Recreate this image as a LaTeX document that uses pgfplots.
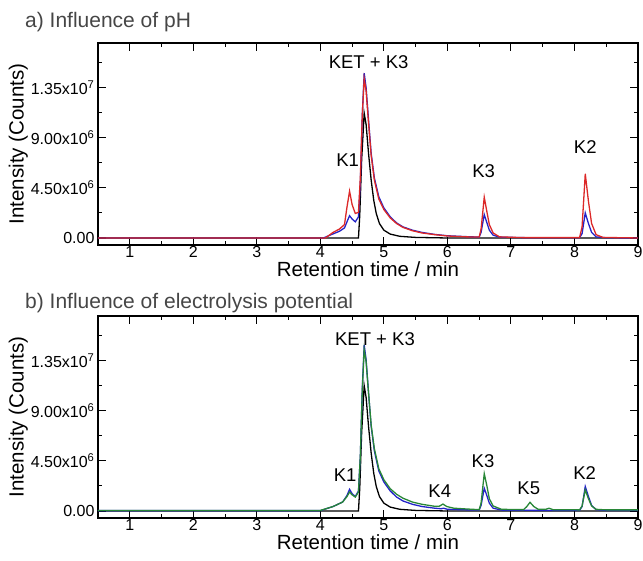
\documentclass[border=0pt]{standalone}
\usepackage{pgfplots}
\pgfplotsset{compat=1.18}
\usepackage{fontspec}
\setmainfont{Liberation Sans}

\definecolor{cred}{RGB}{220,40,40}
\definecolor{cblue}{RGB}{35,35,200}
\definecolor{cgreen}{RGB}{40,135,55}
\definecolor{titlegray}{RGB}{70,70,70}

\pgfplotsset{
  chrom/.style={
    scale only axis,
    width=540pt, height=202pt,
    xmin=0.5, xmax=9,
    ymin=-0.63e6, ymax=17.5e6,
    xtick={1,2,...,9},
    minor x tick num=1,
    ytick={0,4.5e6,9e6,1.35e7},
    yticklabels={0.00, 4.50x10\textsuperscript{6}, 9.00x10\textsuperscript{6}, 1.35x10\textsuperscript{7}},
    minor ytick={2.25e6,6.75e6,11.25e6,15.75e6},
    scaled y ticks=false,
    tick align=inside,
    major tick length=8pt, minor tick length=4pt,
    tick style={line width=1.1pt, black},
    axis line style={line width=1.3pt},
    tick label style={font=\fontsize{16}{18}\selectfont},
    x tick label style={inner sep=1pt},
    /pgf/number format/assume math mode=true,
    label style={font=\fontsize{20.5}{23}\selectfont},
    xlabel={Retention time / min},
    ylabel={Intensity (Counts)},
    xlabel style={inner sep=1pt, yshift=-2pt},
    ylabel style={yshift=-4pt},
    every axis plot/.append style={line width=1.3pt},
    clip=true,
  }
}

\begin{document}
\begin{tikzpicture}
\useasboundingbox (-98pt,-315pt) rectangle (545pt,245pt);

% ---- a) pH
\begin{axis}[chrom, at={(0pt,0pt)}]
\addplot[black] coordinates {
 (0.5,0) (4.6,0) (4.62,2.0e6) (4.65,7.0e6) (4.69,11.2e6) (4.72,10.2e6) (4.76,7.5e6)
 (4.80,5.2e6) (4.84,3.4e6) (4.88,2.2e6) (4.93,1.3e6) (5.0,0.7e6) (5.1,0.35e6)
 (5.25,0.15e6) (5.5,0.05e6) (6.0,0) (9,0)
};
\addplot[cblue] coordinates {
 (0.5,0) (4.05,0) (4.15,0.25e6) (4.3,0.6e6) (4.38,0.9e6) (4.43,1.6e6) (4.46,2.0e6)
 (4.5,1.7e6) (4.55,1.45e6) (4.6,1.9e6) (4.63,5e6) (4.66,11e6) (4.69,14.8e6)
 (4.72,13.5e6) (4.76,10.5e6) (4.80,7.6e6) (4.85,5.4e6) (4.92,3.7e6) (5.0,2.7e6)
 (5.1,1.9e6) (5.2,1.35e6) (5.3,1.0e6) (5.45,0.7e6) (5.6,0.5e6) (5.8,0.32e6)
 (6.0,0.2e6) (6.3,0.12e6) (6.5,0.08e6) (6.53,0.5e6) (6.58,2.1e6) (6.62,1.4e6)
 (6.66,0.7e6) (6.72,0.25e6) (6.82,0.08e6) (7.2,0.03e6) (8.08,0.02e6) (8.12,0.4e6)
 (8.17,2.25e6) (8.22,1.3e6) (8.27,0.5e6) (8.34,0.1e6) (8.5,0.02e6) (9,0)
};
\addplot[cred] coordinates {
 (0.5,0) (4.08,0) (4.2,0.5e6) (4.3,0.8e6) (4.38,1.2e6) (4.42,2.8e6) (4.46,4.2e6)
 (4.5,3.0e6) (4.55,2.2e6) (4.6,2.3e6) (4.63,5.5e6) (4.66,11e6) (4.69,14.3e6)
 (4.72,13.2e6) (4.76,10.2e6) (4.80,7.4e6) (4.85,5.2e6) (4.92,3.5e6) (5.0,2.55e6)
 (5.1,1.8e6) (5.2,1.3e6) (5.3,0.95e6) (5.45,0.65e6) (5.6,0.45e6) (5.8,0.3e6)
 (6.0,0.18e6) (6.3,0.1e6) (6.5,0.08e6) (6.53,0.8e6) (6.58,3.66e6) (6.62,2.4e6)
 (6.66,1.2e6) (6.72,0.45e6) (6.82,0.1e6) (7.2,0.03e6) (8.08,0.03e6) (8.12,1.0e6)
 (8.17,5.76e6) (8.22,3.3e6) (8.27,1.3e6) (8.34,0.3e6) (8.45,0.05e6) (9,0)
};
\node[font=\fontsize{18.5}{21}\selectfont] at (axis cs:4.76,15.75e6) {KET + K3};
\node[font=\fontsize{18.5}{21}\selectfont] at (axis cs:4.43,7.0e6) {K1};
\node[font=\fontsize{18.5}{21}\selectfont] at (axis cs:6.57,5.97e6) {K3};
\node[font=\fontsize{18.5}{21}\selectfont] at (axis cs:8.17,8.2e6) {K2};
\end{axis}

% ---- b) electrolysis potential
\begin{axis}[chrom, at={(0pt,-273pt)}]
\addplot[black] coordinates {
 (0.5,0) (4.6,0) (4.62,2.0e6) (4.65,7.0e6) (4.69,11.25e6) (4.72,10.2e6) (4.76,7.5e6)
 (4.80,5.2e6) (4.84,3.4e6) (4.88,2.2e6) (4.93,1.3e6) (5.0,0.7e6) (5.1,0.35e6)
 (5.25,0.15e6) (5.5,0.05e6) (6.0,0) (9,0)
};
\addplot[cblue] coordinates {
 (0.5,0.03e6) (4.0,0.03e6) (4.2,0.4e6) (4.35,0.8e6) (4.42,1.4e6) (4.46,1.95e6)
 (4.5,1.55e6) (4.55,1.3e6) (4.6,1.8e6) (4.63,5e6) (4.66,11e6) (4.69,14.9e6)
 (4.72,13.6e6) (4.76,10.5e6) (4.80,7.6e6) (4.85,5.4e6) (4.92,3.6e6) (5.0,2.6e6)
 (5.1,1.8e6) (5.2,1.25e6) (5.3,0.9e6) (5.45,0.6e6) (5.6,0.4e6) (5.8,0.25e6)
 (5.9,0.2e6) (5.94,0.25e6) (6.0,0.15e6) (6.3,0.1e6) (6.5,0.08e6) (6.53,0.5e6)
 (6.58,2.04e6) (6.62,1.4e6) (6.66,0.7e6) (6.72,0.25e6) (6.85,0.08e6) (7.5,0.05e6)
 (8.08,0.05e6) (8.12,0.4e6) (8.17,2.2e6) (8.22,1.3e6) (8.27,0.5e6) (8.34,0.12e6)
 (8.5,0.05e6) (9,0.05e6)
};
\addplot[cgreen] coordinates {
 (0.5,0.05e6) (4.0,0.05e6) (4.2,0.4e6) (4.35,0.8e6) (4.42,1.3e6) (4.46,1.7e6)
 (4.5,1.45e6) (4.55,1.25e6) (4.6,1.7e6) (4.63,5e6) (4.66,10.8e6) (4.69,14.5e6)
 (4.72,13.4e6) (4.76,10.5e6) (4.80,7.7e6) (4.85,5.6e6) (4.92,3.8e6) (5.0,2.8e6)
 (5.1,2.0e6) (5.2,1.5e6) (5.3,1.15e6) (5.45,0.8e6) (5.6,0.6e6) (5.8,0.42e6)
 (5.87,0.42e6) (5.93,0.62e6) (5.99,0.4e6) (6.1,0.25e6) (6.3,0.18e6) (6.5,0.12e6)
 (6.53,0.7e6) (6.58,3.35e6) (6.62,2.3e6) (6.66,1.1e6) (6.72,0.45e6) (6.85,0.15e6)
 (7.2,0.12e6) (7.25,0.4e6) (7.30,0.78e6) (7.36,0.4e6) (7.43,0.15e6) (7.55,0.15e6)
 (7.6,0.25e6) (7.66,0.12e6) (8.08,0.1e6) (8.12,0.45e6) (8.17,1.9e6) (8.22,1.1e6)
 (8.27,0.45e6) (8.34,0.15e6) (8.5,0.1e6) (9,0.1e6)
};
\node[font=\fontsize{18.5}{21}\selectfont] at (axis cs:4.86,15.45e6) {KET + K3};
\node[font=\fontsize{18.5}{21}\selectfont] at (axis cs:4.39,3.24e6) {K1};
\node[font=\fontsize{18.5}{21}\selectfont] at (axis cs:5.88,1.8e6) {K4};
\node[font=\fontsize{18.5}{21}\selectfont] at (axis cs:6.56,4.5e6) {K3};
\node[font=\fontsize{18.5}{21}\selectfont] at (axis cs:7.28,2.04e6) {K5};
\node[font=\fontsize{18.5}{21}\selectfont] at (axis cs:8.16,3.39e6) {K2};
\end{axis}

\node[anchor=west, text=titlegray, font=\fontsize{21}{24}\selectfont, inner sep=0pt] at (-73pt,223pt) {a) Influence of pH};
\node[anchor=west, text=titlegray, font=\fontsize{21}{24}\selectfont, inner sep=0pt] at (-73pt,-58pt) {b) Influence of electrolysis potential};
\end{tikzpicture}
\end{document}
